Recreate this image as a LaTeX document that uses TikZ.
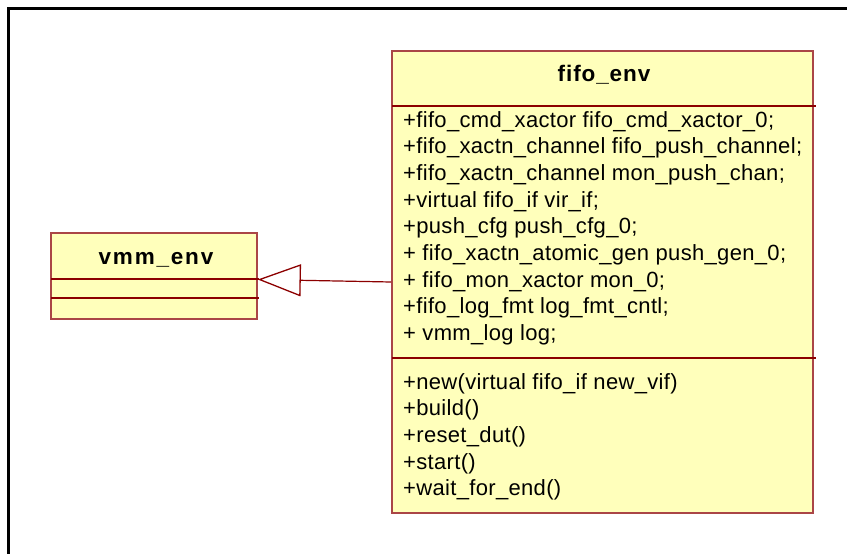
\documentclass[tikz,border=0pt]{standalone}
\usepackage{fontspec}
\setmainfont{Liberation Sans}
\newfontfamily\umlbody[LetterSpace=1.5]{Liberation Sans}
\newfontfamily\umlhead[LetterSpace=4]{Liberation Sans Bold}
\newfontfamily\umlheadwide[LetterSpace=8]{Liberation Sans Bold}
\usetikzlibrary{arrows.meta,calc}
\definecolor{umlfill}{RGB}{255,255,187}
\definecolor{umlline}{RGB}{170,70,70}
\definecolor{umlsep}{RGB}{140,0,0}
\tikzset{
  classbox/.style={draw=umlline, line width=1.6pt, fill=umlfill, inner sep=0pt},
  compsep/.style={draw=umlsep, line width=1.1pt},
  member/.style={anchor=base west, inner sep=0pt, font=\umlbody\fontsize{22}{26}\selectfont},
  classname/.style={anchor=base, inner sep=0pt},
  inherit/.style={draw=umlsep, line width=1.2pt,
    -{Triangle[open, length=43pt, width=32pt, line width=1.3pt]}},
}
\begin{document}
\begin{tikzpicture}[x=1pt,y=-1pt]
\useasboundingbox (0,0) rectangle (847,554);
% page frame
\draw[line width=2.5pt, black] (8.7,554) -- (8.7,8.7) -- (847,8.7);

% class boxes
\node[classbox, minimum width=421pt, minimum height=462pt] (fifo) at (602.5,282) {};
\node[classbox, minimum width=206pt, minimum height=86pt] (vmm) at (154,276) {};

% compartment separators
\draw[compsep] (392,106) -- (816,106);
\draw[compsep] (392,358) -- (816,358);
\draw[compsep] (51,279) -- (259,279);
\draw[compsep] (51,298) -- (259,298);

% class names
\node[classname] (fifotitle) at (604,81) {\umlhead\fontsize{22.5}{26}\selectfont fifo\_env};
\node[classname] (vmmtitle) at (156,264) {\umlheadwide\fontsize{22.5}{26}\selectfont vmm\_env};

% attributes
\foreach \t [count=\i] in {
  +fifo\_cmd\_xactor fifo\_cmd\_xactor\_0;,
  +fifo\_xactn\_channel fifo\_push\_channel;,
  +fifo\_xactn\_channel mon\_push\_chan;,
  +virtual fifo\_if vir\_if;,
  +push\_cfg push\_cfg\_0;,
  + fifo\_xactn\_atomic\_gen push\_gen\_0;,
  + fifo\_mon\_xactor mon\_0;,
  +fifo\_log\_fmt log\_fmt\_cntl;,
  + vmm\_log log;}
  \node[member] (attr\i) at (403, {127+26.7*(\i-1)}) {\t};

% operations
\foreach \t [count=\i] in {
  +new(virtual fifo\_if new\_vif),
  +build(),
  +reset\_dut(),
  +start(),
  +wait\_for\_end()}
  \node[member] (op\i) at (403, {389+26.7*(\i-1)}) {\t};

% generalization
\draw[inherit] (fifo.west) -- ($(vmm.east)+(0,3.5)$);
\end{tikzpicture}
\end{document}
